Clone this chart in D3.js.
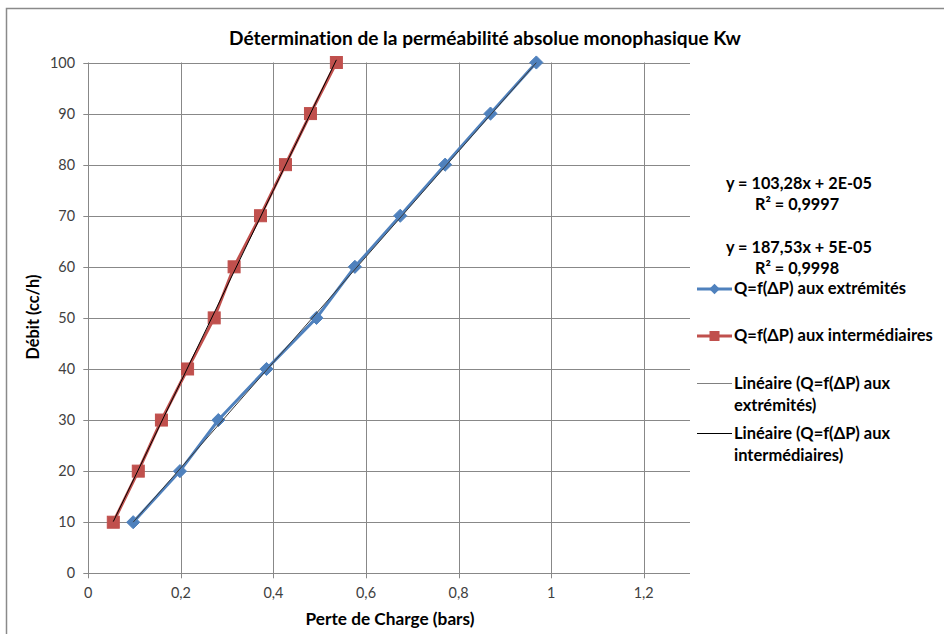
<!DOCTYPE html>
<html><head><meta charset="utf-8">
<script src="https://cdn.jsdelivr.net/npm/d3@7"></script>
<style>body{margin:0;background:#fff;} svg{display:block;} text{font-variant-ligatures:none;}</style>
</head><body>
<svg id="c" width="944" height="634"></svg>
<script>
const debit = [10,20,30,40,50,60,70,80,90,100];
const dpExtremites = [0.097,0.198,0.281,0.385,0.493,0.576,0.674,0.771,0.869,0.968];
const dpIntermediaires = [0.054,0.108,0.158,0.2145,0.272,0.315,0.372,0.426,0.480,0.536];
const trendExt = {slope:103.28, intercept:0.00002, label:"y = 103,28x + 2E-05", r2:"R² = 0,9997"};
const trendInt = {slope:187.53, intercept:0.00005, label:"y = 187,53x + 5E-05", r2:"R² = 0,9998"};
const xTicks = [0,0.2,0.4,0.6,0.8,1,1.2];
const yTicks = [0,10,20,30,40,50,60,70,80,90,100];
const seriesNames = ["Q=f(ΔP) aux extrémités","Q=f(ΔP) aux intermédiaires"];
const trendNames = [["Linéaire (Q=f(ΔP) aux","extrémités)"],["Linéaire (Q=f(ΔP) aux","intermédiaires)"]];

const svg = d3.select("#c");
const font = "Lato, 'Open Sans', sans-serif";
const W=944,H=634;
const m={l:88.3,r:690,t:62.5,b:573.3};
const x = d3.scaleLinear().domain([0,1.3]).range([m.l,m.r]);
const y = d3.scaleLinear().domain([0,100]).range([m.b,m.t]);
const grid="#888888";

// size a font so that a reference string spans a target width
function fitSize(str, weight, target){
  const t = svg.append("text").attr("font-family",font).attr("font-weight",weight).attr("font-size",20).text(str);
  const w = t.node().getComputedTextLength(); t.remove();
  return 20*target/w;
}

// chart border
svg.append("rect").attr("x",6.5).attr("y",8.5).attr("width",W).attr("height",H).attr("fill","none").attr("stroke","#8a8a8a").attr("stroke-width",1.5);

// gridlines
svg.append("g").selectAll("line").data(yTicks).join("line")
  .attr("x1",m.l-5).attr("x2",m.r).attr("y1",d=>Math.round(y(d))+0.5).attr("y2",d=>Math.round(y(d))+0.5)
  .attr("stroke",grid).attr("stroke-width",1);
svg.append("g").selectAll("line").data(xTicks).join("line")
  .attr("y1",m.t).attr("y2",m.b+5).attr("x1",d=>Math.round(x(d))+0.5).attr("x2",d=>Math.round(x(d))+0.5)
  .attr("stroke",grid).attr("stroke-width",1);

// tick labels
const fmt = d=>String(d).replace(".",",");
const tickSize = fitSize("1,2","normal",20);
svg.append("g").selectAll("text").data(yTicks).join("text")
  .attr("x",75).attr("y",d=>y(d)+5).attr("text-anchor","end")
  .attr("font-family",font).attr("font-size",tickSize).attr("fill","#404040").text(d=>d);
svg.append("g").selectAll("text").data(xTicks).join("text")
  .attr("x",d=>x(d)).attr("y",598).attr("text-anchor","middle")
  .attr("font-family",font).attr("font-size",tickSize).attr("fill","#404040").text(fmt);

// titles
const title="Détermination de la perméabilité absolue monophasique Kw";
svg.append("text").attr("x",485).attr("y",45).attr("text-anchor","middle")
  .attr("font-family",font).attr("font-weight","bold").attr("font-size",fitSize(title,"bold",512)).attr("fill","#000")
  .text(title);
const xt="Perte de Charge (bars)";
svg.append("text").attr("x",390).attr("y",625).attr("text-anchor","middle")
  .attr("font-family",font).attr("font-weight","bold").attr("font-size",fitSize(xt,"bold",169)).attr("fill","#000")
  .text(xt);
const yt="Débit (cc/h)";
svg.append("text").attr("transform","translate(39,317) rotate(-90)").attr("text-anchor","middle")
  .attr("font-family",font).attr("font-weight","bold").attr("font-size",fitSize(yt,"bold",85)).attr("fill","#000")
  .text(yt);

const blue="#4F81BD", red="#C0504D";
const line = d3.line().x(d=>x(d[0])).y(d=>y(d[1]));
const ext = dpExtremites.map((v,i)=>[v,debit[i]]);
const inter = dpIntermediaires.map((v,i)=>[v,debit[i]]);

// series lines
svg.append("path").datum(ext).attr("d",line).attr("fill","none").attr("stroke",blue).attr("stroke-width",3);
svg.append("path").datum(inter).attr("d",line).attr("fill","none").attr("stroke",red).attr("stroke-width",3);

// markers
const diamond = d3.symbol().type(d3.symbolDiamond2).size(110);
svg.append("g").selectAll("path").data(ext).join("path")
  .attr("d",diamond).attr("transform",d=>`translate(${x(d[0])},${y(d[1])})`)
  .attr("fill",blue).attr("stroke",blue).attr("stroke-width",1);
svg.append("g").selectAll("rect").data(inter).join("rect")
  .attr("x",d=>x(d[0])-6).attr("y",d=>y(d[1])-6).attr("width",12).attr("height",12)
  .attr("fill",red).attr("stroke",red).attr("stroke-width",1);

// trendlines
function trend(t,xs){const a=d3.min(xs),b=d3.max(xs);return [[a,t.slope*a+t.intercept],[b,t.slope*b+t.intercept]];}
svg.append("path").datum(trend(trendExt,dpExtremites)).attr("d",line).attr("fill","none").attr("stroke","#3a3a3a").attr("stroke-width",1);
svg.append("path").datum(trend(trendInt,dpIntermediaires)).attr("d",line).attr("fill","none").attr("stroke","#000").attr("stroke-width",1);

// equations
const eq = svg.append("g").attr("font-family",font).attr("font-weight","bold")
  .attr("font-size",fitSize(trendExt.label,"bold",146)).attr("fill","#000");
eq.append("text").attr("x",726).attr("y",189).text(trendExt.label);
eq.append("text").attr("x",755).attr("y",210).text(trendExt.r2);
eq.append("text").attr("x",726).attr("y",253).text(trendInt.label);
eq.append("text").attr("x",755).attr("y",274).text(trendInt.r2);

// legend
const lg = svg.append("g").attr("font-family",font).attr("font-weight","bold")
  .attr("font-size",fitSize(seriesNames[1],"bold",199)).attr("fill","#000");
const lx1=697, lx2=732, tx=734;
lg.append("line").attr("x1",lx1).attr("x2",lx2).attr("y1",289).attr("y2",289).attr("stroke",blue).attr("stroke-width",3);
lg.append("path").attr("d",d3.symbol().type(d3.symbolDiamond2).size(70)).attr("transform",`translate(${(lx1+lx2)/2},289)`).attr("fill",blue);
lg.append("text").attr("x",tx).attr("y",294).text(seriesNames[0]);
lg.append("line").attr("x1",lx1).attr("x2",lx2).attr("y1",336).attr("y2",336).attr("stroke",red).attr("stroke-width",3);
lg.append("rect").attr("x",(lx1+lx2)/2-5).attr("y",331).attr("width",10).attr("height",10).attr("fill",red);
lg.append("text").attr("x",tx).attr("y",341).text(seriesNames[1]);
lg.append("line").attr("x1",lx1).attr("x2",lx2).attr("y1",383.5).attr("y2",383.5).attr("stroke","#808080").attr("stroke-width",1);
lg.append("text").attr("x",tx).attr("y",389).text(trendNames[0][0]);
lg.append("text").attr("x",tx).attr("y",411).text(trendNames[0][1]);
lg.append("line").attr("x1",lx1).attr("x2",lx2).attr("y1",433.5).attr("y2",433.5).attr("stroke","#000").attr("stroke-width",1);
lg.append("text").attr("x",tx).attr("y",439).text(trendNames[1][0]);
lg.append("text").attr("x",tx).attr("y",461).text(trendNames[1][1]);
</script>
</body></html>
